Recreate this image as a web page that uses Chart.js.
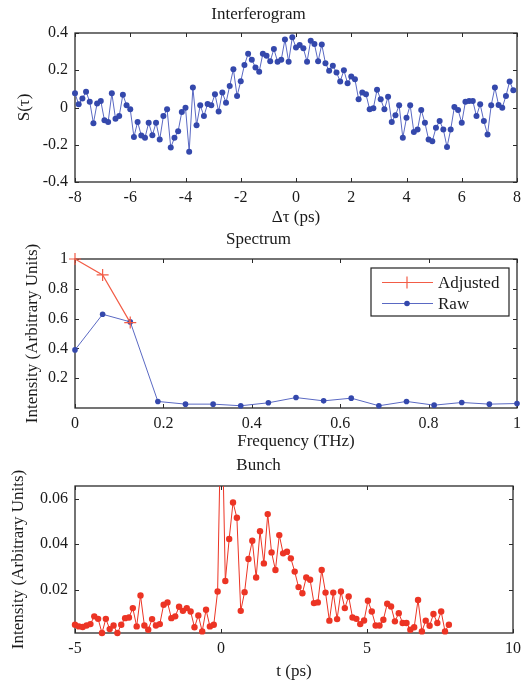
<!DOCTYPE html>
<html>
<head>
<meta charset="utf-8">
<script src="https://cdn.jsdelivr.net/npm/chart.js@4.4.0/dist/chart.umd.min.js"></script>
<style>
  html, body { margin: 0; padding: 0; background: #fff; }
  #wrap { position: relative; width: 527px; height: 683px; }
  canvas { position: absolute; left: 0; }
</style>
</head>
<body>
<div id="wrap">
  <canvas id="interf" width="527" height="228" style="top:0;width:527px;height:228px"></canvas>
  <canvas id="spec" width="527" height="224" style="top:228px;width:527px;height:224px"></canvas>
  <canvas id="bunch" width="527" height="231" style="top:452px;width:527px;height:231px"></canvas>
</div>
<script>
// --- Interferogram: S(tau), uniformly sampled from -8 ps
const tauStart = -8;
const tauStep = 16 / 120;
const interfValues = [
  0.076, 0.017, 0.048, 0.085, 0.031, -0.084, 0.022, 0.035, -0.069, -0.078,
  0.076, -0.06, -0.046, 0.069, 0.012, -0.01, -0.158, -0.078, -0.15, -0.163,
  -0.082, -0.149, -0.082, -0.172, -0.046, -0.01, -0.215, -0.163, -0.127, -0.024,
  -0.001, -0.237, 0.107, -0.095, 0.012, -0.046, 0.019, 0.012, 0.071, -0.021,
  0.08, 0.026, 0.116, 0.206, 0.062, 0.141, 0.228, 0.288, 0.257, 0.215,
  0.192, 0.288, 0.278, 0.248, 0.314, 0.246, 0.257, 0.365, 0.246, 0.377,
  0.322, 0.335, 0.318, 0.246, 0.359, 0.341, 0.248, 0.338, 0.237, 0.197,
  0.224, 0.188, 0.14, 0.2, 0.13, 0.167, 0.152, 0.044, 0.08, 0.071,
  -0.01, -0.004, 0.095, 0.044, -0.01, 0.058, -0.078, -0.042, 0.012, -0.163,
  -0.055, 0.012, -0.131, -0.118, -0.013, -0.082, -0.172, -0.181, -0.109, -0.073,
  -0.118, -0.212, -0.118, 0.003, -0.013, -0.082, 0.031, 0.035, 0.035, -0.046,
  0.017, -0.073, -0.145, 0.012, 0.107, 0.013, -0.001, 0.062, 0.14, 0.092
];
const interfXTicks = [-8, -6, -4, -2, 0, 2, 4, 6, 8];
const interfYTicks = [-0.4, -0.2, 0, 0.2, 0.4];
const interfYLabels = ['-0.4', '-0.2', '0', '0.2', '0.4'];

// --- Spectrum
const freqRaw = [0, 0.0625, 0.125, 0.1875, 0.25, 0.3125, 0.375, 0.4375, 0.5,
  0.5625, 0.625, 0.6875, 0.75, 0.8125, 0.875, 0.9375, 1];
const rawValues = [0.39, 0.629, 0.578, 0.044, 0.026, 0.026, 0.015, 0.035, 0.07,
  0.048, 0.066, 0.015, 0.044, 0.019, 0.037, 0.026, 0.03];
const freqAdjusted = [0, 0.0625, 0.125];
const adjustedValues = [1.0, 0.893, 0.573];
const specXTicks = [0, 0.2, 0.4, 0.6, 0.8, 1];
const specYTicks = [0.2, 0.4, 0.6, 0.8, 1];

// --- Bunch
const tStart = -5;
const tStep = 0.132;
const bunchValues = [
  0.0047, 0.0040, 0.0037, 0.0044, 0.0050, 0.0084, 0.0073, 0.0011, 0.0073, 0.0028,
  0.0044, 0.0011, 0.0047, 0.0076, 0.0079, 0.0120, 0.0040, 0.0175, 0.0044, 0.0025,
  0.0072, 0.0044, 0.0050, 0.0135, 0.0145, 0.0076, 0.0084, 0.0126, 0.0108, 0.0120,
  0.0105, 0.0036, 0.0088, 0.0018, 0.0113, 0.0040, 0.0047, 0.0193, 0.1100, 0.0239,
  0.0423, 0.0583, 0.0516, 0.0108, 0.0190, 0.0335, 0.0415, 0.0254, 0.0457, 0.0316,
  0.0532, 0.0364, 0.0287, 0.0440, 0.0360, 0.0367, 0.0338, 0.0280, 0.0212, 0.0185,
  0.0254, 0.0244, 0.0142, 0.0145, 0.0287, 0.0188, 0.0065, 0.0188, 0.0072, 0.0193,
  0.0120, 0.0171, 0.0079, 0.0073, 0.0050, 0.0066, 0.0152, 0.0105, 0.0044, 0.0044,
  0.0069, 0.0139, 0.0127, 0.0062, 0.0098, 0.0055, 0.0055, 0.0025, 0.0036, 0.0156,
  0.0018, 0.0065, 0.0043, 0.0094, 0.0055, 0.0105, 0.0018, 0.0047
];
const bunchXTicks = [-5, 0, 5, 10];
const bunchYTicks = [0.02, 0.04, 0.06];

const BLUE = 'rgb(52,72,172)';
const BLUE_LINE = 'rgb(90,105,195)';
const ORANGE = 'rgb(242,92,70)';
const RED = 'rgb(236,52,36)';
const FAMILY = "'Liberation Serif', 'Times New Roman', serif";
const TEXT = '#1a1a1a';

// box + inward tick marks on all four sides, MATLAB style
const framePlugin = {
  id: 'frame',
  beforeDatasetsDraw(chart) {
    const ctx = chart.ctx;
    const a = chart.chartArea;
    const xs = chart.scales.x, ys = chart.scales.y;
    ctx.save();
    ctx.strokeStyle = '#2a2a2a';
    ctx.lineWidth = 1.3;
    ctx.strokeRect(a.left, a.top, a.right - a.left, a.bottom - a.top);
    ctx.lineWidth = 1;
    ctx.beginPath();
    xs.ticks.forEach(t => {
      const px = Math.round(xs.getPixelForValue(t.value)) + 0.5;
      ctx.moveTo(px, a.bottom); ctx.lineTo(px, a.bottom - 4);
      ctx.moveTo(px, a.top); ctx.lineTo(px, a.top + 4);
    });
    ys.ticks.forEach(t => {
      const py = Math.round(ys.getPixelForValue(t.value)) + 0.5;
      ctx.moveTo(a.left, py); ctx.lineTo(a.left + 4, py);
      ctx.moveTo(a.right, py); ctx.lineTo(a.right - 4, py);
    });
    ctx.stroke();
    ctx.restore();
  }
};

// legend drawn inside the plot area (top right)
const boxLegend = {
  id: 'boxLegend',
  afterDraw(chart) {
    if (chart.canvas.id !== 'spec') return;
    const ctx = chart.ctx;
    const a = chart.chartArea;
    const w = 138, h = 48;
    const x0 = a.right - 8 - w, y0 = a.top + 9;
    ctx.save();
    ctx.fillStyle = '#fff';
    ctx.fillRect(x0, y0, w, h);
    ctx.strokeStyle = '#222';
    ctx.lineWidth = 1.2;
    ctx.strokeRect(x0, y0, w, h);
    chart.data.datasets.forEach((ds, i) => {
      const y = y0 + 14.5 + i * 21;
      ctx.strokeStyle = ds.borderColor;
      ctx.lineWidth = 1;
      ctx.beginPath();
      ctx.moveTo(x0 + 11, y); ctx.lineTo(x0 + 62, y);
      ctx.stroke();
      const mx = x0 + 36;
      if (ds.pointStyle === 'cross') {
        ctx.lineWidth = 1.2;
        ctx.beginPath();
        ctx.moveTo(mx - 6, y); ctx.lineTo(mx + 6, y);
        ctx.moveTo(mx, y - 6); ctx.lineTo(mx, y + 6);
        ctx.stroke();
      } else {
        ctx.fillStyle = ds.pointBackgroundColor;
        ctx.beginPath();
        ctx.arc(mx, y, 2.8, 0, Math.PI * 2);
        ctx.fill();
      }
      ctx.fillStyle = TEXT;
      ctx.font = '17px ' + FAMILY;
      ctx.textAlign = 'left';
      ctx.textBaseline = 'middle';
      ctx.fillText(ds.label, x0 + 67, y + 1);
    });
    ctx.restore();
  }
};

function makeOptions(cfg) {
  const fTick = { family: FAMILY, size: 16 };
  const fLab = { family: FAMILY, size: 17 };
  return {
    responsive: false,
    animation: false,
    layout: { padding: { left: 0, right: 10, top: 0, bottom: 0 } },
    plugins: {
      legend: { display: false },
      tooltip: { enabled: false },
      title: {
        display: true, text: cfg.title, color: TEXT,
        font: { family: FAMILY, size: 17, weight: 'normal' },
        padding: { top: cfg.titleTop, bottom: cfg.titleBottom }
      }
    },
    scales: {
      x: {
        type: 'linear', min: cfg.xMin, max: cfg.xMax,
        afterBuildTicks: s => { s.ticks = cfg.xTicks.map(v => ({ value: v })); },
        afterFit: s => { s.height = cfg.xHeight; },
        grid: { display: false, drawTicks: false },
        border: { display: false },
        ticks: {
          padding: 6, color: TEXT, font: fTick, autoSkip: false, maxRotation: 0,
          callback: v => String(v)
        },
        title: { display: true, text: cfg.xTitle, color: TEXT, font: fLab, padding: { top: 0, bottom: cfg.xTitleBottom } }
      },
      y: {
        type: 'linear', min: cfg.yMin, max: cfg.yMax,
        afterBuildTicks: s => { s.ticks = cfg.yTicks.map(v => ({ value: v })); },
        afterFit: s => { s.width = 75; },
        grid: { display: false, drawTicks: false },
        border: { display: false },
        ticks: {
          padding: 7, color: TEXT, font: fTick, autoSkip: false,
          callback: (v, i) => cfg.yLabels ? cfg.yLabels[i] : String(v)
        },
        title: { display: true, text: cfg.yTitle, color: TEXT, font: fLab, padding: { top: cfg.yTitleTop, bottom: 0 } }
      }
    }
  };
}

Chart.register(framePlugin, boxLegend);

new Chart(document.getElementById('interf'), {
  type: 'line',
  data: {
    datasets: [{
      label: 'S',
      data: interfValues.map((v, i) => ({ x: tauStart + i * tauStep, y: v })),
      borderColor: BLUE_LINE, borderWidth: 1, tension: 0,
      pointRadius: 3, pointBackgroundColor: BLUE, pointBorderColor: BLUE, pointBorderWidth: 0,
      clip: false
    }]
  },
  options: makeOptions({
    title: 'Interferogram', titleTop: 4, titleBottom: 8.6,
    xMin: -8, xMax: 8, xTicks: interfXTicks, xHeight: 46, xTitle: 'Δτ (ps)', xTitleBottom: 0,
    yMin: -0.4, yMax: 0.4, yTicks: interfYTicks, yLabels: interfYLabels, yTitle: 'S(τ)', yTitleTop: 14.8
  })
});

new Chart(document.getElementById('spec'), {
  type: 'line',
  data: {
    datasets: [{
      label: 'Adjusted',
      data: freqAdjusted.map((f, i) => ({ x: f, y: adjustedValues[i] })),
      borderColor: ORANGE, borderWidth: 1.2, tension: 0,
      pointStyle: 'cross', pointRadius: 6, pointBorderColor: ORANGE, pointBorderWidth: 1.2,
      clip: false
    }, {
      label: 'Raw',
      data: freqRaw.map((f, i) => ({ x: f, y: rawValues[i] })),
      borderColor: BLUE_LINE, borderWidth: 1, tension: 0,
      pointRadius: 2.8, pointBackgroundColor: BLUE, pointBorderColor: BLUE, pointBorderWidth: 0,
      clip: false
    }]
  },
  options: makeOptions({
    title: 'Spectrum', titleTop: 1.8, titleBottom: 8.8,
    xMin: 0, xMax: 1, xTicks: specXTicks, xHeight: 44, xTitle: 'Frequency (THz)', xTitleBottom: 0,
    yMin: 0, yMax: 1, yTicks: specYTicks, yTitle: 'Intensity (Arbitrary Units)', yTitleTop: 22.8
  })
});

new Chart(document.getElementById('bunch'), {
  type: 'line',
  data: {
    datasets: [{
      label: 'Bunch',
      data: bunchValues.map((v, i) => ({ x: tStart + i * tStep, y: v })),
      borderColor: RED, borderWidth: 1, tension: 0,
      pointRadius: 3.2, pointBackgroundColor: RED, pointBorderColor: RED, pointBorderWidth: 0,
      clip: { left: 10, right: 10, bottom: 10, top: 0 }
    }]
  },
  options: makeOptions({
    title: 'Bunch', titleTop: 3.8, titleBottom: 9.8,
    xMin: -5, xMax: 10, xTicks: bunchXTicks, xHeight: 50, xTitle: 't (ps)', xTitleBottom: 0.8,
    yMin: 0.0011, yMax: 0.0655, yTicks: bunchYTicks, yTitle: 'Intensity (Arbitrary Units)', yTitleTop: 8.8
  })
});
</script>
</body>
</html>
